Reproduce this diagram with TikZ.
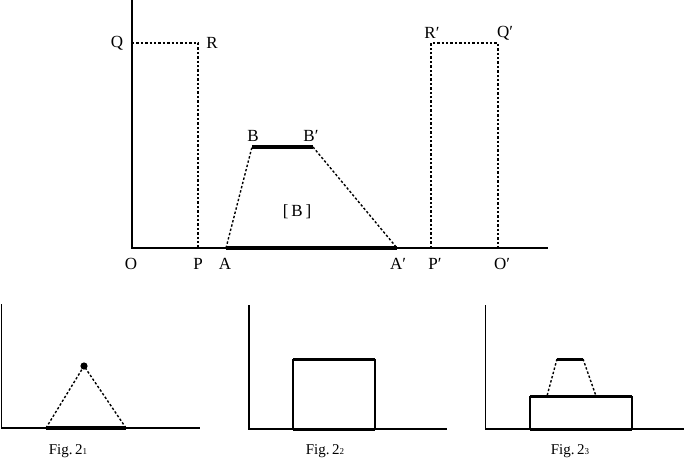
\documentclass[tikz,border=0pt]{standalone}
\usepackage{fontspec}
\setmainfont{Liberation Serif}
\begin{document}
\begin{tikzpicture}[x=1pt,y=-1pt,
  axis/.style={line width=1.5pt},
  heavy/.style={line width=3.6pt},
  dotline/.style={line width=1.4pt, dash pattern=on 2.4pt off 2pt},
  lbl/.style={font=\fontsize{17}{17}\selectfont, inner sep=0pt},
  figlbl/.style={font=\fontsize{15}{15}\selectfont, inner sep=0pt}]
\useasboundingbox (0,0) rectangle (684,464);
% ---------- top diagram ----------
\coordinate (Ytop) at (132,0);
\coordinate (O) at (132,248);
\coordinate (Xend) at (548,248);
\coordinate (Q) at (132,43);
\coordinate (R) at (198,43);
\coordinate (P) at (198,248);
\coordinate (A) at (226,248);
\coordinate (Ap) at (397,248);
\coordinate (B) at (252,147);
\coordinate (Bp) at (313,147);
\coordinate (Pp) at (431,248);
\coordinate (Rp) at (431,43);
\coordinate (Op) at (498,248);
\coordinate (Qp) at (498,43);
\draw[axis] (Ytop) -- (O) -- (Xend);
\draw[dotline] (Q) -- (R) -- (P);
\draw[dotline] (Pp) -- (Rp) -- (Qp) -- (Op);
\draw[dotline] (A) -- (B);
\draw[dotline] (Bp) -- (Ap);
\draw[heavy] (A) -- (Ap);
\draw[heavy] (B) -- (Bp);
\node[lbl] (lQ) at (117,43) {Q};
\node[lbl] (lR) at (212,43) {R};
\node[lbl] (lO) at (131,264) {O};
\node[lbl] (lP) at (198,264) {P};
\node[lbl] (lA) at (225,264) {A};
\node[lbl] (lAp) at (398,264) {A′};
\node[lbl] (lPp) at (435,264) {P′};
\node[lbl] (lOp) at (502,264) {O′};
\node[lbl] (lB) at (253,136) {B};
\node[lbl] (lBp) at (311,136) {B′};
\node[lbl] (lRp) at (432,33) {R′};
\node[lbl] (lQp) at (505,33) {Q′};
\node[lbl] (lBB) at (297,212) {[\,B\,]};
% ---------- Fig. 2_1 ----------
\coordinate (a1top) at (1.5,304);
\coordinate (a1o) at (1.5,428);
\coordinate (a1end) at (200,428);
\coordinate (c1l) at (46,428);
\coordinate (c1r) at (126,428);
\coordinate (d1) at (84,366);
\draw[axis] (a1top) -- (a1o) -- (a1end);
\draw[dotline] (c1l) -- (d1) -- (c1r);
\draw[heavy] (c1l) -- (c1r);
\fill (d1) circle (3.6pt);
\node[figlbl] (f1) at (68,451) {Fig.\,2{\fontsize{9}{9}\selectfont 1}};
% ---------- Fig. 2_2 ----------
\coordinate (a2top) at (249,305);
\coordinate (a2o) at (249,429);
\coordinate (a2end) at (447,429);
\coordinate (r2bl) at (293,429);
\coordinate (r2br) at (375,429);
\coordinate (r2tl) at (293,359);
\coordinate (r2tr) at (375,359);
\draw[axis] (a2top) -- (a2o) -- (a2end);
\draw[axis] (r2bl) -- (r2tl) (r2br) -- (r2tr);
\draw[heavy, line width=3pt] (r2tl) -- (r2tr);
\draw[heavy, line width=3pt] (r2bl) -- (r2br);
\node[figlbl] (f2) at (325,451) {Fig.\,2{\fontsize{9}{9}\selectfont 2}};
% ---------- Fig. 2_3 ----------
\coordinate (a3top) at (485.5,305);
\coordinate (a3o) at (485.5,429);
\coordinate (a3end) at (684,429);
\coordinate (r3bl) at (530,429);
\coordinate (r3br) at (632,429);
\coordinate (r3tl) at (530,396);
\coordinate (r3tr) at (632,396);
\coordinate (s3l) at (557,359);
\coordinate (s3r) at (583,359);
\coordinate (s3bl) at (547,396);
\coordinate (s3br) at (596,396);
\draw[axis] (a3top) -- (a3o) -- (a3end);
\draw[axis] (r3bl) -- (r3tl) (r3br) -- (r3tr);
\draw[dotline] (s3l) -- (s3bl);
\draw[dotline] (s3r) -- (s3br);
\draw[heavy, line width=3pt] (r3tl) -- (r3tr);
\draw[heavy, line width=3pt] (r3bl) -- (r3br);
\draw[heavy, line width=3pt] (s3l) -- (s3r);
\node[figlbl] (f3) at (570,451) {Fig.\,2{\fontsize{9}{9}\selectfont 3}};
\end{tikzpicture}
\end{document}
